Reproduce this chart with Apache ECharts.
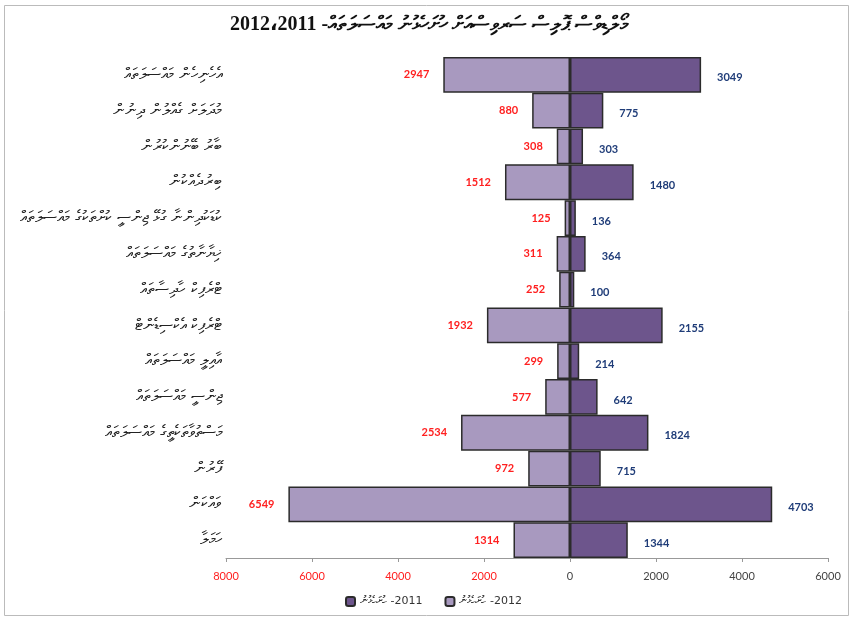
<!DOCTYPE html>
<html>
<head>
<meta charset="utf-8">
<script src="https://cdn.jsdelivr.net/npm/echarts@6/dist/echarts.min.js"></script>
<style>
  html, body { margin: 0; padding: 0; background: #fff; }
  #chart { width: 858px; height: 624px; }
</style>
</head>
<body>
<div id="chart"></div>
<script>
// categories, top to bottom
var categories = [
  'އެހެނިހެން މައްސަލަތައް',
  'މުދަލަށް ގެއްލުން ދިނުން',
  'ބާރު ބޭނުންކުރުން',
  'ބިރުދެއްކުން',
  'ކުޑަކުދިންނާ ގުޅޭ ޖިންސީ ކުށްތަކުގެ މައްސަލަތައް',
  'ޚިޔާނާތުގެ މައްސަލަތައް',
  'ޓްރެފިކް ހާދިސާތައް',
  'ޓްރެފިކް އެކްސިޑެންޓް',
  'އާއިލީ މައްސަލަތައް',
  'ޖިންސީ މައްސަލަތައް',
  'މަސްތުވާތަކެތީގެ މައްސަލަތައް',
  'ފޭރުން',
  'ވައްކަން',
  'ހަމަލާ'
];
var values2012 = [2947, 880, 308, 1512, 125, 311, 252, 1932, 299, 577, 2534, 972, 6549, 1314];
var values2011 = [3049, 775, 303, 1480, 136, 364, 100, 2155, 214, 642, 1824, 715, 4703, 1344];

var titleText = '2012،2011 -މޯލްޑިވްސް ޕޮލިސް ސަރވިސްއަށް ހުށަހެޅުނު މައްސަލަތައް';
var name2011 = '\u200Eހުށަހެޅުނު -\u200E2011';
var name2012 = '\u200Eހުށަހެޅުނު -\u200E2012';

var thaanaFont = '"DejaVu Sans", "Noto Sans", sans-serif';
var numFont = 'Lato, "Liberation Sans", sans-serif';

var chart = echarts.init(document.getElementById('chart'));

chart.setOption({
  backgroundColor: '#fff',
  animation: false,
  title: {
    text: titleText,
    left: 'center',
    top: 10,
    textStyle: {
      fontFamily: '"Liberation Serif", ' + thaanaFont,
      fontSize: 20,
      fontWeight: 'bold',
      color: '#111'
    }
  },
  legend: {
    bottom: 12,
    left: 340,
    itemWidth: 9,
    itemHeight: 9,
    itemGap: 22,
    textStyle: { fontFamily: thaanaFont, fontSize: 11, color: '#333' },
    data: [name2011, name2012]
  },
  grid: {
    left: 226,
    right: 30,
    top: 57,
    bottom: 66,
    containLabel: false
  },
  xAxis: {
    type: 'value',
    min: -8000,
    max: 6000,
    interval: 2000,
    axisLine: { show: true, lineStyle: { color: '#999' } },
    axisTick: { show: true, inside: false, length: 4, lineStyle: { color: '#999' } },
    splitLine: { show: false },
    axisLabel: {
      margin: 13,
      fontFamily: numFont,
      fontSize: 11,
      formatter: function(v) { return String(Math.abs(v)); },
      color: function(v) { return v < 0 ? '#ff2020' : '#444'; }
    }
  },
  yAxis: {
    type: 'category',
    inverse: true,
    data: categories,
    axisLine: { show: false },
    axisTick: { show: false },
    axisLabel: {
      margin: 4,
      fontFamily: thaanaFont,
      fontSize: 16,
      color: '#222'
    }
  },
  series: [{
    name: name2012,
    type: 'bar',
    barCategoryGap: 0,
    barGap: '-100%',
    data: values2012.map(function(v) { return -v; }),
    itemStyle: { color: '#a899bf', borderColor: '#2b2b2b', borderWidth: 1.5 },
    label: {
      show: true,
      position: 'left',
      distance: 14,
      fontFamily: numFont,
      fontSize: 11,
      fontWeight: 'bold',
      color: '#ff2020',
      formatter: function(p) { return Math.abs(p.value); }
    }
  }, {
    name: name2011,
    type: 'bar',
    barCategoryGap: 0,
    barGap: '-100%',
    data: values2011,
    itemStyle: { color: '#6d558c', borderColor: '#2b2b2b', borderWidth: 1.5 },
    label: {
      show: true,
      position: 'right',
      distance: 16,
      offset: [0, 3],
      fontFamily: numFont,
      fontSize: 11,
      fontWeight: 'bold',
      color: '#1f3c78'
    }
  }],
  graphic: [{
    type: 'rect',
    silent: true,
    shape: { x: 4.5, y: 5.5, width: 844, height: 610 },
    style: { fill: null, stroke: '#bbb', lineWidth: 1 }
  }]
});
</script>
</body>
</html>
